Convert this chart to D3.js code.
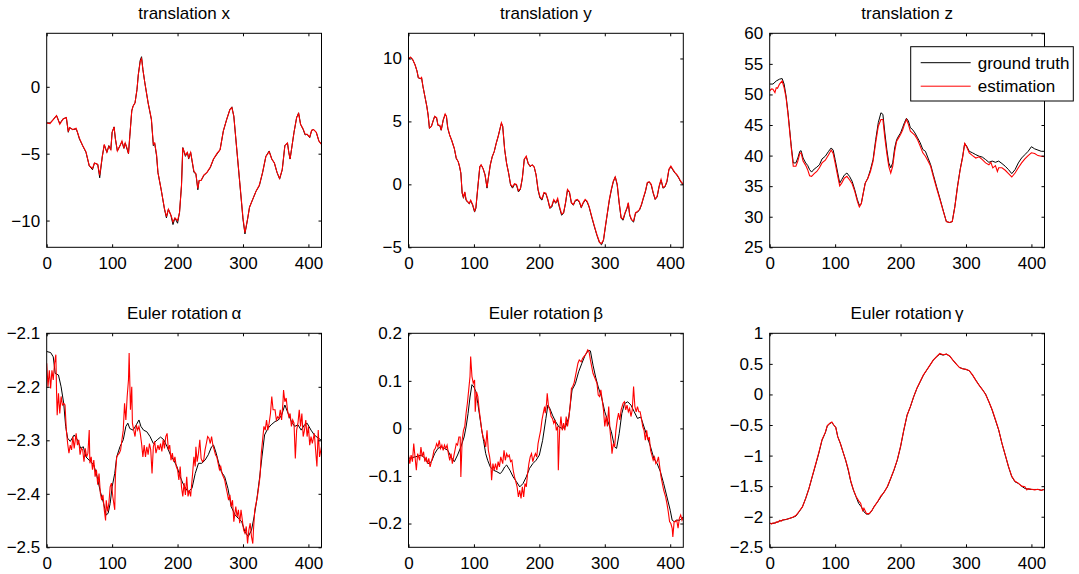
<!DOCTYPE html>
<html>
<head>
<meta charset="utf-8">
<script src="https://cdn.jsdelivr.net/npm/d3@7"></script>
<style>
  body { margin: 0; background: #fff; }
  svg text { font-family: "Liberation Sans", Arial, sans-serif; fill: #000; }
</style>
</head>
<body>
<div id="chart"></div>
<script>
// titles and axis setup
const titles = ['translation x', 'translation y', 'translation z',
                'Euler rotation\u2009α', 'Euler rotation\u2009β', 'Euler rotation\u2009γ'];
const xTicks = [0, 100, 200, 300, 400];
const yDomains = [[-12, 4], [-5, 12], [25, 60], [-2.5, -2.1], [-0.25, 0.2], [-2.5, 1]];
const yTicks = [
  [-10, -5, 0],
  [-5, 0, 5, 10],
  [25, 30, 35, 40, 45, 50, 55, 60],
  [-2.5, -2.4, -2.3, -2.2, -2.1],
  [-0.2, -0.1, 0, 0.1, 0.2],
  [-2.5, -2, -1.5, -1, -0.5, 0, 0.5, 1]
];
const legendLabels = ['ground truth', 'estimation'];

// [frame, value]
const txTruth = [[0,-2.7],[5,-2.7],[10,-2.45],[15,-2.15],[20,-2.75],[25,-2.4],[30,-2.3],[33,-3.4],[35,-3.05],[40,-3.2],[45,-3.15],[47,-3.4],[50,-3.9],[55,-4.4],[60,-4.9],[65,-5.9],[70,-6.2],[73,-5.7],[78,-5.8],[81,-6.8],[85,-5.2],[88,-4.35],[92,-4.9],[95,-4.4],[98,-4.7],[100,-3.4],[103,-3.0],[105,-3.9],[108,-4.8],[112,-4.4],[115,-4.1],[118,-4.6],[120,-4.2],[123,-4.7],[125,-5.0],[127,-3.7],[130,-1.8],[132,-1.45],[135,-1.2],[138,-0.2],[140,0.9],[143,2.0],[145,2.25],[147,1.3],[150,0.3],[155,-1.2],[160,-2.45],[163,-4.4],[165,-4.2],[168,-5.2],[170,-6.4],[175,-7.7],[180,-9.15],[183,-9.8],[186,-9.15],[190,-9.65],[193,-10.3],[196,-9.8],[200,-10.2],[203,-9.4],[206,-7.4],[208,-4.55],[212,-5.2],[215,-4.9],[217,-5.4],[220,-4.9],[225,-6.4],[228,-6.5],[231,-7.7],[233,-7.0],[236,-7.0],[240,-6.65],[245,-6.4],[250,-6.05],[255,-5.4],[260,-5.05],[265,-4.7],[270,-3.3],[275,-2.45],[280,-1.7],[283,-1.5],[286,-2.2],[290,-4.4],[295,-7.15],[300,-9.9],[303,-11.0],[307,-9.9],[310,-9.0],[315,-8.4],[320,-7.8],[325,-7.4],[330,-6.4],[335,-5.2],[340,-4.8],[344,-5.4],[348,-5.7],[352,-6.4],[356,-6.9],[360,-6.2],[364,-4.4],[368,-4.2],[370,-4.9],[372,-5.4],[375,-4.4],[378,-3.4],[382,-2.3],[385,-1.95],[388,-2.8],[392,-3.2],[395,-3.6],[398,-3.55],[402,-3.8],[405,-3.25],[408,-3.2],[412,-3.4],[416,-4.05],[420,-4.3]];
const txEst = [[0,-2.7],[5,-2.75],[10,-2.45],[15,-2.15],[20,-2.8],[25,-2.4],[30,-2.3],[33,-3.35],[35,-3.05],[40,-3.2],[45,-3.1],[47,-3.4],[50,-3.85],[55,-4.4],[60,-4.85],[65,-5.9],[70,-6.1],[73,-5.7],[78,-5.8],[81,-6.6],[85,-5.2],[88,-4.3],[92,-4.9],[95,-4.45],[98,-4.7],[100,-3.4],[103,-3.0],[105,-3.9],[108,-4.8],[112,-4.4],[115,-4.05],[118,-4.6],[120,-4.2],[123,-4.6],[125,-5.0],[127,-3.7],[130,-1.8],[132,-1.45],[135,-1.2],[138,-0.2],[140,0.9],[143,1.9],[145,2.1],[147,1.3],[150,0.3],[155,-1.2],[160,-2.4],[163,-4.3],[165,-4.2],[168,-5.1],[170,-6.4],[175,-7.7],[180,-9.1],[183,-9.7],[186,-9.15],[190,-9.6],[193,-10.1],[196,-9.8],[200,-10.0],[203,-9.4],[206,-7.4],[208,-4.55],[212,-5.1],[215,-4.9],[217,-5.3],[220,-4.9],[225,-6.3],[228,-6.5],[231,-7.6],[233,-7.0],[236,-7.0],[240,-6.6],[245,-6.4],[250,-6.0],[255,-5.4],[260,-5.0],[265,-4.7],[270,-3.3],[275,-2.45],[280,-1.7],[283,-1.55],[286,-2.2],[290,-4.4],[295,-7.1],[300,-9.8],[303,-10.9],[307,-9.9],[310,-9.0],[315,-8.4],[320,-7.8],[325,-7.35],[330,-6.4],[335,-5.2],[340,-4.85],[344,-5.4],[348,-5.7],[352,-6.4],[356,-6.85],[360,-6.2],[364,-4.4],[368,-4.2],[370,-4.9],[372,-5.4],[375,-4.4],[378,-3.4],[382,-2.3],[385,-2.0],[388,-2.8],[392,-3.15],[395,-3.55],[398,-3.55],[402,-3.75],[405,-3.25],[408,-3.2],[412,-3.4],[416,-4.05],[420,-4.3]];

const tyTruth = [[0,9.9],[3,10.1],[6,9.95],[10,9.5],[13,9.0],[15,8.45],[18,8.4],[20,8.45],[22,7.8],[25,7.0],[28,6.2],[30,5.5],[32,4.45],[35,4.6],[38,5.1],[40,5.4],[43,5.25],[45,4.7],[48,4.65],[50,4.3],[53,5.1],[56,5.55],[58,5.4],[60,4.45],[63,3.9],[66,3.5],[70,2.85],[73,2.05],[76,1.8],[78,1.4],[80,0.9],[82,-0.7],[84,-1.1],[86,-0.65],[88,-1.25],[90,-1.4],[93,-1.55],[95,-1.3],[98,-1.65],[101,-2.2],[103,-1.9],[106,-0.2],[109,1.4],[111,1.55],[114,1.25],[117,0.75],[120,-0.3],[122,0.5],[125,1.55],[128,2.2],[131,2.6],[134,3.25],[137,3.8],[140,4.45],[142,4.85],[144,4.6],[147,2.75],[150,1.65],[153,0.9],[156,-0.05],[159,-0.3],[162,0],[165,-0.05],[168,-0.6],[171,-0.4],[174,0.5],[177,2.0],[180,2.2],[183,1.65],[186,1.4],[189,1.55],[192,1.4],[195,0.75],[198,-0.45],[201,-1.1],[204,-1.25],[207,-0.7],[210,-0.75],[213,-1.25],[216,-1.9],[219,-1.8],[222,-1.25],[225,-1.5],[228,-1.25],[231,-1.9],[234,-2.45],[237,-2.3],[240,-1.5],[243,-0.45],[246,-0.65],[249,-1.5],[252,-1.65],[255,-1.3],[258,-1.25],[261,-1.4],[264,-1.85],[267,-1.5],[270,-1.25],[273,-1.4],[276,-1.8],[280,-2.6],[284,-3.35],[288,-4.05],[292,-4.65],[295,-4.8],[298,-4.45],[301,-3.35],[304,-2.3],[307,-1.25],[310,-0.45],[313,0.2],[316,0.6],[319,-0.05],[322,-1.5],[325,-2.7],[328,-2.85],[331,-2.3],[334,-1.9],[336,-1.5],[338,-2.45],[341,-2.85],[344,-3.0],[347,-2.3],[350,-2.2],[353,-2.05],[356,-1.65],[359,-1.1],[362,-0.6],[365,0.1],[368,0.2],[371,-0.05],[374,-0.7],[377,-1.2],[380,-1.0],[383,-0.2],[386,0.35],[389,-0.3],[392,-0.2],[395,0.2],[398,1.15],[401,1.4],[404,1.15],[407,0.9],[410,0.75],[413,0.5],[416,0.2],[420,-0.05]];
const tyEst = [[0,10.0],[3,10.1],[6,9.95],[10,9.5],[13,9.0],[15,8.5],[18,8.4],[20,8.5],[22,7.8],[25,7.0],[28,6.2],[30,5.5],[32,4.5],[35,4.6],[38,5.1],[40,5.4],[43,5.3],[45,4.7],[48,4.7],[50,4.3],[53,5.1],[56,5.6],[58,5.4],[60,4.5],[63,3.9],[66,3.5],[70,2.85],[73,2.1],[76,1.8],[78,1.45],[80,0.9],[82,-0.65],[84,-1.0],[86,-0.6],[88,-1.2],[90,-1.35],[93,-1.5],[95,-1.25],[98,-1.6],[101,-2.1],[103,-1.85],[106,-0.2],[109,1.4],[111,1.55],[114,1.25],[117,0.75],[120,-0.25],[122,0.5],[125,1.55],[128,2.2],[131,2.6],[134,3.25],[137,3.8],[140,4.45],[142,4.9],[144,4.6],[147,2.75],[150,1.65],[153,0.9],[156,0.0],[159,-0.2],[162,0.05],[165,0.0],[168,-0.5],[171,-0.35],[174,0.5],[177,2.0],[180,2.25],[183,1.65],[186,1.45],[189,1.55],[192,1.4],[195,0.75],[198,-0.4],[201,-1.0],[204,-1.15],[207,-0.65],[210,-0.7],[213,-1.2],[216,-1.85],[219,-1.7],[222,-1.2],[225,-1.45],[228,-1.1],[231,-1.8],[234,-2.35],[237,-2.25],[240,-1.45],[243,-0.4],[246,-0.6],[249,-1.45],[252,-1.6],[255,-1.25],[258,-1.2],[261,-1.35],[264,-1.8],[267,-1.45],[270,-1.2],[273,-1.35],[276,-1.75],[280,-2.55],[284,-3.3],[288,-4.0],[292,-4.6],[295,-4.7],[298,-4.4],[301,-3.3],[304,-2.25],[307,-1.2],[310,-0.4],[313,0.25],[316,0.6],[319,0.0],[322,-1.45],[325,-2.65],[328,-2.75],[331,-2.25],[334,-1.85],[336,-1.45],[338,-2.4],[341,-2.8],[344,-2.9],[347,-2.25],[350,-2.15],[353,-2.0],[356,-1.6],[359,-1.05],[362,-0.55],[365,0.15],[368,0.2],[371,0.0],[374,-0.65],[377,-1.15],[380,-0.95],[383,-0.15],[386,0.4],[389,-0.25],[392,-0.15],[395,0.25],[398,1.2],[401,1.45],[404,1.2],[407,0.95],[410,0.8],[413,0.55],[416,0.25],[420,0.0]];

const tzTruth = [[0,51.7],[5,51.7],[10,52.2],[15,52.5],[19,52.6],[22,51.7],[25,49.75],[28,47.0],[30,44.8],[33,41.5],[36,38.8],[40,38.8],[43,39.6],[46,40.7],[48,40.8],[51,39.6],[55,38.8],[58,38.4],[61,37.7],[64,37.3],[68,37.8],[72,38.1],[76,38.5],[80,39.45],[85,39.9],[90,40.7],[94,41.25],[97,40.9],[100,39.35],[104,37.15],[107,35.5],[110,36.05],[114,36.8],[118,37.15],[122,36.6],[126,35.8],[130,34.4],[134,32.8],[137,31.85],[140,32.2],[143,33.85],[146,35.5],[150,36.3],[154,37.7],[158,39.35],[162,42.6],[166,45.4],[170,47.0],[173,46.75],[176,43.7],[179,41.0],[182,38.8],[185,38.0],[188,38.8],[191,41.25],[194,42.6],[197,43.2],[200,43.7],[203,44.55],[206,45.4],[209,46.1],[212,45.65],[215,44.55],[218,44.3],[222,43.7],[226,42.9],[230,42.1],[234,41.0],[238,40.7],[242,39.6],[246,38.5],[250,36.9],[255,34.95],[260,33.05],[265,31.1],[270,29.2],[275,29.05],[279,29.2],[283,31.7],[287,34.95],[291,37.7],[295,39.9],[298,42.0],[301,41.55],[305,40.7],[310,40.45],[315,40.15],[320,39.9],[325,39.75],[330,39.35],[335,38.9],[340,39.1],[345,38.9],[350,39.1],[355,38.7],[360,38.25],[365,37.7],[370,37.05],[375,37.7],[380,38.8],[385,39.6],[390,40.15],[395,40.7],[400,41.45],[405,41.1],[410,40.9],[415,40.7],[420,40.7]];
const tzEst = [[0,50.6],[3,50.9],[5,50.85],[8,50.3],[10,51.1],[12,51.0],[15,51.7],[19,52.2],[22,51.1],[25,49.5],[28,46.75],[30,44.55],[33,41.25],[36,38.25],[40,38.25],[43,39.1],[46,40.35],[48,40.45],[51,39.1],[55,38.4],[58,37.7],[61,36.7],[64,36.6],[68,37.05],[72,37.4],[76,38.0],[80,38.8],[85,39.25],[90,40.15],[94,40.9],[97,40.35],[100,38.8],[104,36.6],[107,35.05],[110,35.5],[114,36.3],[118,36.6],[122,36.05],[126,35.4],[130,34.15],[134,32.5],[137,31.6],[140,32.1],[143,33.85],[146,35.5],[150,36.3],[154,37.4],[158,39.1],[162,42.1],[166,44.8],[170,45.9],[173,45.9],[176,42.9],[179,40.35],[182,38.25],[185,37.15],[188,38.25],[191,40.7],[194,42.35],[197,42.9],[200,43.45],[203,44.15],[206,45.1],[209,45.9],[212,45.1],[215,44.0],[218,43.7],[222,43.3],[226,42.6],[230,41.55],[234,40.45],[238,39.9],[242,39.1],[246,38.25],[250,36.6],[255,34.7],[260,32.9],[265,31.0],[270,29.2],[275,29.05],[279,29.2],[283,31.6],[287,34.85],[291,37.6],[295,39.8],[298,42.0],[301,41.45],[305,40.45],[310,40.0],[315,39.6],[320,39.8],[325,39.35],[330,38.8],[335,38.5],[338,38.9],[341,38.0],[345,38.35],[348,37.4],[350,38.0],[355,38.0],[360,37.6],[365,37.05],[370,36.5],[375,37.15],[380,38.0],[385,38.8],[390,39.45],[395,40.0],[400,40.45],[405,40.35],[410,40.0],[415,39.9],[420,39.8]];

const alphaTruth = [[0,-2.134],[6,-2.136],[10,-2.144],[13,-2.175],[18,-2.178],[22,-2.2],[26,-2.231],[29,-2.274],[32,-2.296],[36,-2.302],[42,-2.29],[47,-2.299],[52,-2.315],[56,-2.312],[60,-2.331],[67,-2.34],[72,-2.346],[77,-2.368],[82,-2.396],[87,-2.418],[91,-2.44],[94,-2.436],[97,-2.418],[100,-2.387],[104,-2.362],[107,-2.331],[112,-2.312],[117,-2.299],[121,-2.274],[124,-2.268],[127,-2.278],[132,-2.281],[137,-2.271],[141,-2.262],[144,-2.274],[148,-2.281],[153,-2.284],[158,-2.293],[163,-2.306],[169,-2.299],[174,-2.294],[179,-2.299],[184,-2.312],[189,-2.327],[194,-2.337],[199,-2.349],[204,-2.368],[208,-2.38],[211,-2.387],[216,-2.396],[222,-2.39],[227,-2.362],[232,-2.343],[237,-2.343],[242,-2.337],[247,-2.327],[252,-2.312],[255,-2.309],[259,-2.324],[263,-2.343],[267,-2.359],[272,-2.368],[277,-2.39],[282,-2.424],[288,-2.44],[293,-2.446],[298,-2.452],[303,-2.471],[308,-2.48],[313,-2.468],[317,-2.443],[321,-2.412],[325,-2.374],[329,-2.331],[333,-2.29],[338,-2.278],[343,-2.271],[349,-2.265],[354,-2.262],[359,-2.253],[364,-2.234],[369,-2.25],[374,-2.265],[379,-2.274],[384,-2.271],[389,-2.281],[394,-2.271],[398,-2.268],[404,-2.281],[409,-2.29],[415,-2.296],[419,-2.299]];
const alphaEst = [[0,-2.156],[2,-2.2],[4,-2.169],[6,-2.203],[8,-2.169],[10,-2.187],[12,-2.156],[14,-2.14],[15,-2.206],[16,-2.253],[18,-2.212],[20,-2.25],[22,-2.218],[24,-2.234],[26,-2.231],[28,-2.234],[30,-2.281],[32,-2.306],[34,-2.324],[36,-2.309],[38,-2.318],[40,-2.293],[42,-2.315],[45,-2.287],[47,-2.309],[49,-2.299],[51,-2.327],[53,-2.315],[55,-2.318],[57,-2.34],[59,-2.315],[61,-2.331],[63,-2.324],[65,-2.281],[66,-2.343],[68,-2.331],[70,-2.355],[72,-2.337],[74,-2.368],[76,-2.355],[78,-2.383],[80,-2.362],[82,-2.399],[84,-2.412],[86,-2.402],[88,-2.43],[90,-2.45],[91,-2.412],[93,-2.433],[95,-2.418],[97,-2.387],[99,-2.38],[101,-2.405],[104,-2.43],[105,-2.365],[107,-2.331],[109,-2.327],[111,-2.324],[113,-2.318],[115,-2.299],[117,-2.281],[119,-2.231],[121,-2.262],[123,-2.218],[125,-2.187],[126,-2.137],[128,-2.243],[130,-2.2],[131,-2.268],[133,-2.281],[135,-2.293],[137,-2.271],[139,-2.281],[141,-2.274],[143,-2.287],[145,-2.306],[147,-2.331],[149,-2.309],[151,-2.331],[153,-2.312],[155,-2.327],[157,-2.306],[159,-2.318],[161,-2.362],[163,-2.312],[165,-2.302],[167,-2.324],[170,-2.309],[172,-2.318],[174,-2.306],[176,-2.321],[178,-2.299],[180,-2.315],[182,-2.293],[184,-2.287],[186,-2.318],[188,-2.309],[190,-2.337],[192,-2.324],[194,-2.34],[196,-2.331],[198,-2.349],[200,-2.355],[202,-2.374],[204,-2.349],[206,-2.387],[208,-2.405],[210,-2.38],[212,-2.402],[214,-2.368],[216,-2.405],[218,-2.393],[220,-2.405],[223,-2.362],[225,-2.331],[227,-2.349],[228,-2.312],[230,-2.34],[232,-2.324],[234,-2.299],[236,-2.334],[238,-2.34],[240,-2.337],[242,-2.318],[244,-2.306],[246,-2.293],[248,-2.296],[250,-2.306],[252,-2.293],[254,-2.309],[256,-2.318],[258,-2.327],[260,-2.331],[262,-2.343],[264,-2.355],[266,-2.349],[268,-2.362],[270,-2.368],[272,-2.374],[274,-2.387],[276,-2.399],[278,-2.412],[280,-2.402],[282,-2.424],[284,-2.412],[286,-2.452],[289,-2.424],[291,-2.443],[293,-2.43],[295,-2.455],[297,-2.43],[299,-2.449],[301,-2.468],[303,-2.474],[305,-2.461],[307,-2.493],[309,-2.468],[311,-2.455],[313,-2.48],[315,-2.493],[316,-2.468],[318,-2.43],[320,-2.418],[322,-2.405],[324,-2.387],[326,-2.368],[328,-2.324],[330,-2.299],[332,-2.274],[334,-2.281],[336,-2.262],[338,-2.281],[340,-2.268],[342,-2.25],[344,-2.218],[346,-2.243],[349,-2.243],[351,-2.262],[353,-2.256],[355,-2.259],[357,-2.243],[359,-2.262],[361,-2.231],[362,-2.206],[364,-2.228],[366,-2.221],[368,-2.243],[370,-2.256],[372,-2.25],[374,-2.274],[376,-2.262],[378,-2.268],[380,-2.334],[382,-2.281],[384,-2.268],[386,-2.243],[388,-2.274],[390,-2.25],[392,-2.293],[394,-2.281],[396,-2.262],[398,-2.293],[400,-2.274],[402,-2.309],[404,-2.293],[406,-2.306],[409,-2.287],[411,-2.318],[413,-2.349],[415,-2.281],[417,-2.331],[420,-2.312]];

const betaTruth = [[0,-0.063],[10,-0.06],[20,-0.056],[25,-0.063],[30,-0.074],[35,-0.07],[40,-0.053],[45,-0.042],[50,-0.039],[55,-0.042],[60,-0.046],[65,-0.06],[70,-0.07],[75,-0.056],[80,-0.039],[85,-0.018],[88,0.003],[91,0.031],[94,0.066],[97,0.092],[100,0.087],[103,0.077],[106,0.052],[109,0.024],[112,-0.004],[115,-0.028],[118,-0.053],[121,-0.067],[125,-0.081],[130,-0.088],[135,-0.091],[140,-0.095],[143,-0.091],[147,-0.081],[150,-0.077],[155,-0.088],[160,-0.102],[165,-0.112],[170,-0.123],[175,-0.116],[180,-0.102],[185,-0.084],[190,-0.074],[195,-0.067],[200,-0.056],[205,-0.025],[210,0.021],[213,0.049],[216,0.042],[220,0.028],[225,0.014],[230,0.003],[235,0.0],[240,0.003],[245,0.024],[250,0.081],[255,0.094],[260,0.119],[265,0.137],[270,0.154],[275,0.164],[278,0.163],[282,0.133],[286,0.108],[290,0.087],[295,0.066],[300,0.035],[305,0.014],[310,-0.007],[315,-0.039],[318,-0.042],[322,-0.011],[326,0.031],[330,0.052],[335,0.056],[340,0.049],[345,0.035],[350,0.021],[355,0.024],[360,0.003],[365,-0.018],[370,-0.039],[375,-0.063],[380,-0.074],[385,-0.091],[390,-0.116],[395,-0.144],[400,-0.172],[403,-0.193],[406,-0.196],[410,-0.193],[415,-0.193],[420,-0.186]];
const betaEst = [[0,-0.056],[2,-0.074],[4,-0.056],[6,-0.07],[8,-0.032],[10,-0.06],[12,-0.088],[14,-0.053],[17,-0.067],[19,-0.039],[21,-0.06],[23,-0.049],[25,-0.07],[27,-0.06],[29,-0.074],[31,-0.063],[33,-0.081],[35,-0.07],[37,-0.06],[39,-0.046],[41,-0.042],[43,-0.032],[45,-0.039],[47,-0.025],[49,-0.042],[51,-0.035],[53,-0.046],[55,-0.035],[57,-0.042],[59,-0.035],[61,-0.053],[63,-0.067],[65,-0.053],[67,-0.074],[69,-0.06],[71,-0.046],[73,-0.032],[75,-0.035],[77,-0.018],[79,-0.018],[80,-0.102],[82,-0.025],[84,-0.004],[86,0.004],[88,0.032],[90,0.053],[92,0.081],[94,0.109],[95,0.151],[97,0.109],[99,0.095],[101,0.102],[102,0.035],[104,0.077],[106,0.067],[108,0.039],[110,0.018],[112,-0.004],[114,-0.018],[116,-0.025],[118,-0.039],[120,-0.004],[122,-0.046],[124,-0.06],[126,-0.081],[127,-0.109],[129,-0.074],[131,-0.088],[133,-0.074],[135,-0.088],[137,-0.07],[139,-0.081],[141,-0.06],[144,-0.074],[146,-0.046],[148,-0.067],[150,-0.053],[152,-0.06],[154,-0.056],[156,-0.07],[158,-0.067],[160,-0.088],[162,-0.102],[164,-0.112],[166,-0.123],[168,-0.144],[170,-0.13],[172,-0.147],[174,-0.123],[176,-0.144],[178,-0.116],[180,-0.123],[182,-0.095],[184,-0.074],[186,-0.06],[188,-0.053],[190,-0.07],[192,-0.06],[194,-0.053],[196,-0.06],[198,-0.032],[200,-0.018],[202,-0.004],[204,0.018],[206,0.032],[208,0.046],[209,0.032],[211,0.053],[212,0.074],[214,0.046],[216,0.039],[218,0.025],[220,0.021],[222,0.011],[224,0.018],[226,-0.004],[228,0.004],[229,-0.088],[231,-0.004],[233,0.025],[235,-0.004],[237,0.011],[239,-0.004],[241,0.025],[243,0.004],[245,0.021],[247,0.046],[249,0.084],[251,0.088],[253,0.095],[255,0.109],[257,0.123],[259,0.137],[261,0.144],[264,0.14],[266,0.147],[268,0.151],[270,0.154],[272,0.159],[274,0.165],[276,0.161],[278,0.144],[280,0.13],[282,0.116],[284,0.109],[286,0.102],[288,0.095],[290,0.07],[292,0.067],[294,0.081],[296,0.06],[298,0.039],[300,0.004],[302,0.025],[304,0.004],[306,0.046],[308,-0.004],[310,-0.032],[311,-0.053],[313,-0.032],[315,-0.039],[317,-0.004],[319,0.018],[321,0.032],[323,0.018],[325,0.039],[328,0.053],[330,0.056],[332,0.039],[334,0.049],[336,0.035],[338,0.042],[340,0.025],[342,0.039],[344,0.088],[346,0.046],[348,0.035],[350,0.046],[352,0.035],[354,0.035],[356,0.021],[358,0.004],[360,-0.004],[362,-0.025],[364,-0.004],[366,-0.025],[368,-0.018],[370,-0.046],[372,-0.056],[374,-0.067],[376,-0.06],[378,-0.074],[380,-0.07],[382,-0.06],[384,-0.081],[386,-0.102],[388,-0.116],[390,-0.13],[393,-0.144],[395,-0.158],[397,-0.175],[399,-0.196],[401,-0.2],[403,-0.21],[404,-0.228],[406,-0.196],[408,-0.196],[410,-0.193],[412,-0.21],[414,-0.189],[416,-0.182],[418,-0.193],[420,-0.186]];

const gammaTruth = [[0,-2.11],[5,-2.11],[10,-2.094],[15,-2.072],[20,-2.056],[25,-2.045],[30,-2.028],[35,-2.012],[40,-1.99],[45,-1.919],[50,-1.838],[55,-1.701],[60,-1.538],[65,-1.347],[70,-1.156],[75,-0.965],[80,-0.747],[85,-0.627],[88,-0.518],[92,-0.474],[95,-0.458],[98,-0.502],[101,-0.54],[104,-0.692],[108,-0.802],[112,-0.938],[116,-1.074],[120,-1.238],[124,-1.429],[128,-1.565],[132,-1.674],[136,-1.783],[140,-1.838],[144,-1.919],[148,-1.957],[152,-1.957],[156,-1.903],[160,-1.827],[165,-1.756],[170,-1.674],[175,-1.592],[180,-1.51],[185,-1.374],[190,-1.238],[195,-1.074],[200,-0.856],[205,-0.583],[210,-0.338],[215,-0.202],[220,-0.038],[225,0.098],[230,0.207],[235,0.316],[240,0.398],[245,0.48],[250,0.562],[255,0.616],[260,0.66],[265,0.643],[270,0.66],[275,0.627],[280,0.562],[285,0.496],[290,0.442],[295,0.42],[300,0.409],[305,0.387],[310,0.316],[315,0.234],[320,0.153],[325,0.082],[330,0.005],[335,-0.12],[340,-0.256],[345,-0.42],[350,-0.583],[355,-0.802],[360,-0.992],[365,-1.183],[370,-1.347],[375,-1.429],[380,-1.456],[385,-1.5],[390,-1.538],[395,-1.548],[400,-1.554],[405,-1.554],[410,-1.554],[415,-1.565],[420,-1.554]];
const gammaEst = [[0,-2.1],[3,-2.12],[5,-2.1],[8,-2.11],[10,-2.085],[13,-2.09],[15,-2.06],[18,-2.07],[20,-2.05],[25,-2.045],[30,-2.03],[35,-2.01],[40,-1.98],[45,-1.91],[50,-1.84],[55,-1.7],[60,-1.54],[65,-1.34],[70,-1.15],[75,-0.95],[80,-0.74],[85,-0.62],[88,-0.51],[92,-0.47],[95,-0.45],[98,-0.5],[101,-0.54],[104,-0.69],[108,-0.8],[112,-0.94],[116,-1.07],[120,-1.22],[124,-1.42],[128,-1.56],[132,-1.67],[136,-1.74],[139,-1.78],[142,-1.9],[144,-1.86],[148,-1.95],[152,-1.95],[156,-1.9],[160,-1.83],[165,-1.75],[170,-1.66],[175,-1.6],[180,-1.5],[185,-1.37],[190,-1.23],[195,-1.07],[200,-0.85],[205,-0.58],[210,-0.34],[215,-0.2],[220,-0.04],[225,0.1],[230,0.21],[235,0.32],[240,0.4],[245,0.48],[250,0.56],[255,0.62],[260,0.67],[265,0.65],[270,0.66],[275,0.63],[280,0.56],[285,0.5],[290,0.44],[295,0.42],[300,0.41],[305,0.39],[310,0.32],[315,0.23],[320,0.15],[325,0.08],[330,0.0],[335,-0.12],[340,-0.25],[345,-0.41],[350,-0.58],[355,-0.8],[360,-0.99],[365,-1.18],[370,-1.34],[375,-1.42],[380,-1.45],[385,-1.5],[390,-1.51],[393,-1.56],[395,-1.54],[400,-1.55],[405,-1.56],[410,-1.55],[415,-1.57],[420,-1.55]];

const truthSeries = [txTruth, tyTruth, tzTruth, alphaTruth, betaTruth, gammaTruth];
const estSeries = [txEst, tyEst, tzEst, alphaEst, betaEst, gammaEst];

const width = 1079;
const height = 574;
const lefts = [46.7, 408.5, 769.7];
const tops = [33.3, 333.3];
const pw = 274.8;
const ph = 214;
const fontSize = 17;

const svg = d3.select('#chart')
    .append('svg')
    .attr('width', width)
    .attr('height', height);

const x = d3.scaleLinear().domain([0, 420]).range([0, pw]);

titles.forEach((title, i) => {
    const g = svg.append('g')
        .attr('transform', `translate(${lefts[i % 3]},${tops[Math.floor(i / 3)]})`);
    const y = d3.scaleLinear().domain(yDomains[i]).range([ph, 0]);

    g.append('clipPath').attr('id', 'clip' + i)
        .append('rect').attr('width', pw).attr('height', ph);

    const line = d3.line().x(d => x(d[0])).y(d => y(d[1]));
    const plot = g.append('g').attr('clip-path', `url(#clip${i})`);
    plot.append('path').datum(truthSeries[i])
        .attr('fill', 'none').attr('stroke', '#000').attr('stroke-width', 1)
        .attr('d', line);
    plot.append('path').datum(estSeries[i])
        .attr('fill', 'none').attr('stroke', '#ff0000').attr('stroke-width', 1.1)
        .attr('d', line);

    // axes, ticks pointing inward on all four sides
    const fmt = d3.format('');
    const bottom = g.append('g').attr('transform', `translate(0,${ph})`)
        .call(d3.axisBottom(x).tickValues(xTicks).tickSize(-3).tickSizeOuter(0).tickPadding(10).tickFormat(fmt));
    const left = g.append('g')
        .call(d3.axisLeft(y).tickValues(yTicks[i]).tickSize(-3).tickSizeOuter(0).tickPadding(6.5).tickFormat(fmt));
    const top = g.append('g')
        .call(d3.axisTop(x).tickValues(xTicks).tickSize(-3).tickSizeOuter(0).tickFormat(''));
    const right = g.append('g').attr('transform', `translate(${pw},0)`)
        .call(d3.axisRight(y).tickValues(yTicks[i]).tickSize(-3).tickSizeOuter(0).tickFormat(''));
    [bottom, left, top, right].forEach(a => {
        a.select('.domain').remove();
        a.selectAll('line').attr('stroke', '#000');
        a.selectAll('text').attr('font-size', fontSize).attr('font-family', '"Liberation Sans", Arial, sans-serif').attr('fill', '#000');
    });

    g.append('rect')
        .attr('width', pw).attr('height', ph)
        .attr('fill', 'none').attr('stroke', '#000').attr('stroke-width', 1);

    g.append('text')
        .attr('x', pw / 2).attr('y', -14)
        .attr('text-anchor', 'middle')
        .attr('font-size', fontSize)
        .text(title);
});

// legend on translation z
const lg = svg.append('g').attr('transform', 'translate(910.7,46.7)');
lg.append('rect').attr('width', 162.6).attr('height', 54.3)
    .attr('fill', '#fff').attr('stroke', '#000').attr('stroke-width', 1);
legendLabels.forEach((lab, k) => {
    const ly = k === 0 ? 16 : 39.5;
    lg.append('line').attr('x1', 10).attr('x2', 60).attr('y1', ly).attr('y2', ly)
        .attr('stroke', k === 0 ? '#000' : '#ff0000').attr('stroke-width', 1);
    lg.append('text').attr('x', 67).attr('y', ly).attr('dy', '0.35em')
        .attr('font-size', fontSize).text(lab);
});
</script>
</body>
</html>
